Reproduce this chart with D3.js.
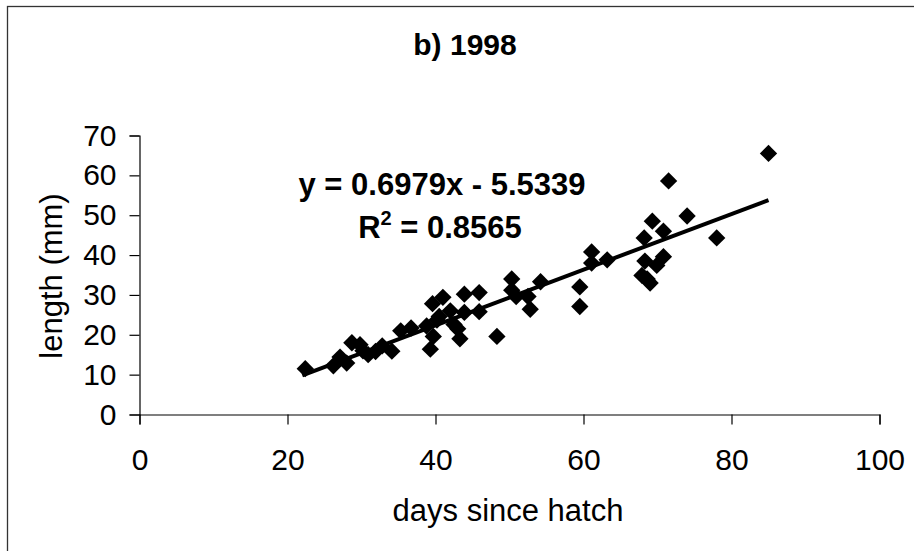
<!DOCTYPE html>
<html>
<head>
<meta charset="utf-8">
<script src="https://cdn.jsdelivr.net/npm/d3@7"></script>
<style>
  html, body { margin: 0; padding: 0; background: #fff; }
  svg { display: block; font-family: "Liberation Sans", Arial, sans-serif; }
</style>
</head>
<body>
<svg id="chart" width="914" height="551"></svg>
<script>
// ---- data ----
const titleText = "b) 1998";
const xLabel = "days since hatch";
const yLabel = "length (mm)";
const xTicks = [0, 20, 40, 60, 80, 100];
const yTicks = [0, 10, 20, 30, 40, 50, 60, 70];
const days = [22.4, 26.2, 27.1, 28.0, 28.7, 29.8, 30.2, 30.9, 31.9, 32.8, 34.1, 35.3, 36.7, 38.8,
  39.3, 39.7, 39.6, 40.2, 40.5, 41.0, 42.0, 42.5, 43.0, 43.3, 43.9, 43.9, 45.9, 45.9, 48.3,
  50.3, 50.3, 50.9, 52.5, 52.8, 54.2, 59.5, 59.5, 61.1, 61.1, 63.2, 67.9, 68.2, 68.3, 68.6,
  69.0, 69.3, 69.9, 70.8, 70.8, 71.5, 74.0, 78.0, 85.0];
const lengths = [11.5, 12.2, 14.4, 12.9, 18.0, 17.5, 16.0, 15.0, 15.8, 17.2, 15.9, 21.0, 21.7, 22.2,
  16.4, 19.6, 27.8, 23.7, 24.6, 29.4, 26.0, 22.6, 21.5, 19.0, 25.6, 30.2, 30.6, 25.8, 19.6,
  34.0, 31.2, 29.6, 29.6, 26.4, 33.3, 32.0, 27.1, 40.8, 38.0, 38.8, 34.9, 44.3, 38.5, 34.0,
  33.0, 48.5, 37.4, 46.0, 39.6, 58.6, 49.8, 44.3, 65.5];
const fitSlope = 0.6979;
const fitIntercept = -5.5339;
const fitRange = [22, 85];
const eqText = "y = 0.6979x - 5.5339";
const r2Value = "0.8565";

// ---- layout ----
const svg = d3.select("#chart");
const x = d3.scaleLinear().domain([0, 100]).range([139.5, 879.5]);
const y = d3.scaleLinear().domain([0, 70]).range([414.5, 135.5]);
const FS = 30;

// frame (left and top visible)
svg.append("rect").attr("x", 7.5).attr("y", 6.5).attr("width", 1200).attr("height", 1200)
  .attr("fill", "none").attr("stroke", "#333").attr("stroke-width", 1.3);

// axes
const xAxis = svg.append("g").attr("transform", `translate(0,${y(0)})`)
  .call(d3.axisBottom(x).tickValues(xTicks).tickSize(10).tickPadding(23).tickFormat(d3.format("d")));
const yAxis = svg.append("g").attr("transform", `translate(${x(0)},0)`)
  .call(d3.axisLeft(y).tickValues(yTicks).tickSize(10).tickPadding(13).tickFormat(d3.format("d")));
[xAxis, yAxis].forEach(g => {
  g.select(".domain").attr("stroke", "#000").attr("stroke-width", 1.2);
  g.selectAll(".tick line").attr("stroke", "#000").attr("stroke-width", 1.2);
  g.selectAll(".tick text").attr("fill", "#000").style("font-size", FS + "px")
    .style("font-family", '"Liberation Sans", Arial, sans-serif');
});
xAxis.selectAll(".tick text").attr("y", 0).attr("dy", 0).attr("transform", "translate(0,55.5)");

// axis titles
svg.append("text").attr("x", 508).attr("y", 521).attr("text-anchor", "middle")
  .style("font-size", "31px").text(xLabel);
svg.append("text").attr("transform", "translate(62,276) rotate(-90)").attr("text-anchor", "middle")
  .style("font-size", "31px").text(yLabel);

// title
svg.append("text").attr("x", 465).attr("y", 55).attr("text-anchor", "middle")
  .style("font-size", FS + "px").style("font-weight", "bold").text(titleText);

// regression line
const line = d3.line().x(d => x(d)).y(d => y(fitSlope * d + fitIntercept));
svg.append("path").attr("d", line(fitRange)).attr("stroke", "#000")
  .attr("stroke-width", 4).attr("fill", "none");

// points (diamonds)
const pts = days.map((d, i) => [d, lengths[i]]);
const diamond = d3.symbol().type(d3.symbolSquare).size(150);
svg.append("g").selectAll("path").data(pts).join("path")
  .attr("d", diamond)
  .attr("transform", d => `translate(${x(d[0])},${y(d[1])}) rotate(45)`)
  .attr("fill", "#000");

// equation text
svg.append("text").attr("x", 442).attr("y", 195).attr("text-anchor", "middle")
  .style("font-size", "31px").style("font-weight", "bold").text(eqText);
const r2 = svg.append("text").attr("x", 440).attr("y", 238).attr("text-anchor", "middle")
  .style("font-size", "31px").style("font-weight", "bold");
r2.append("tspan").text("R");
r2.append("tspan").attr("dy", -13).style("font-size", "20px").text("2");
r2.append("tspan").attr("dy", 13).text(" = " + r2Value);
</script>
</body>
</html>
